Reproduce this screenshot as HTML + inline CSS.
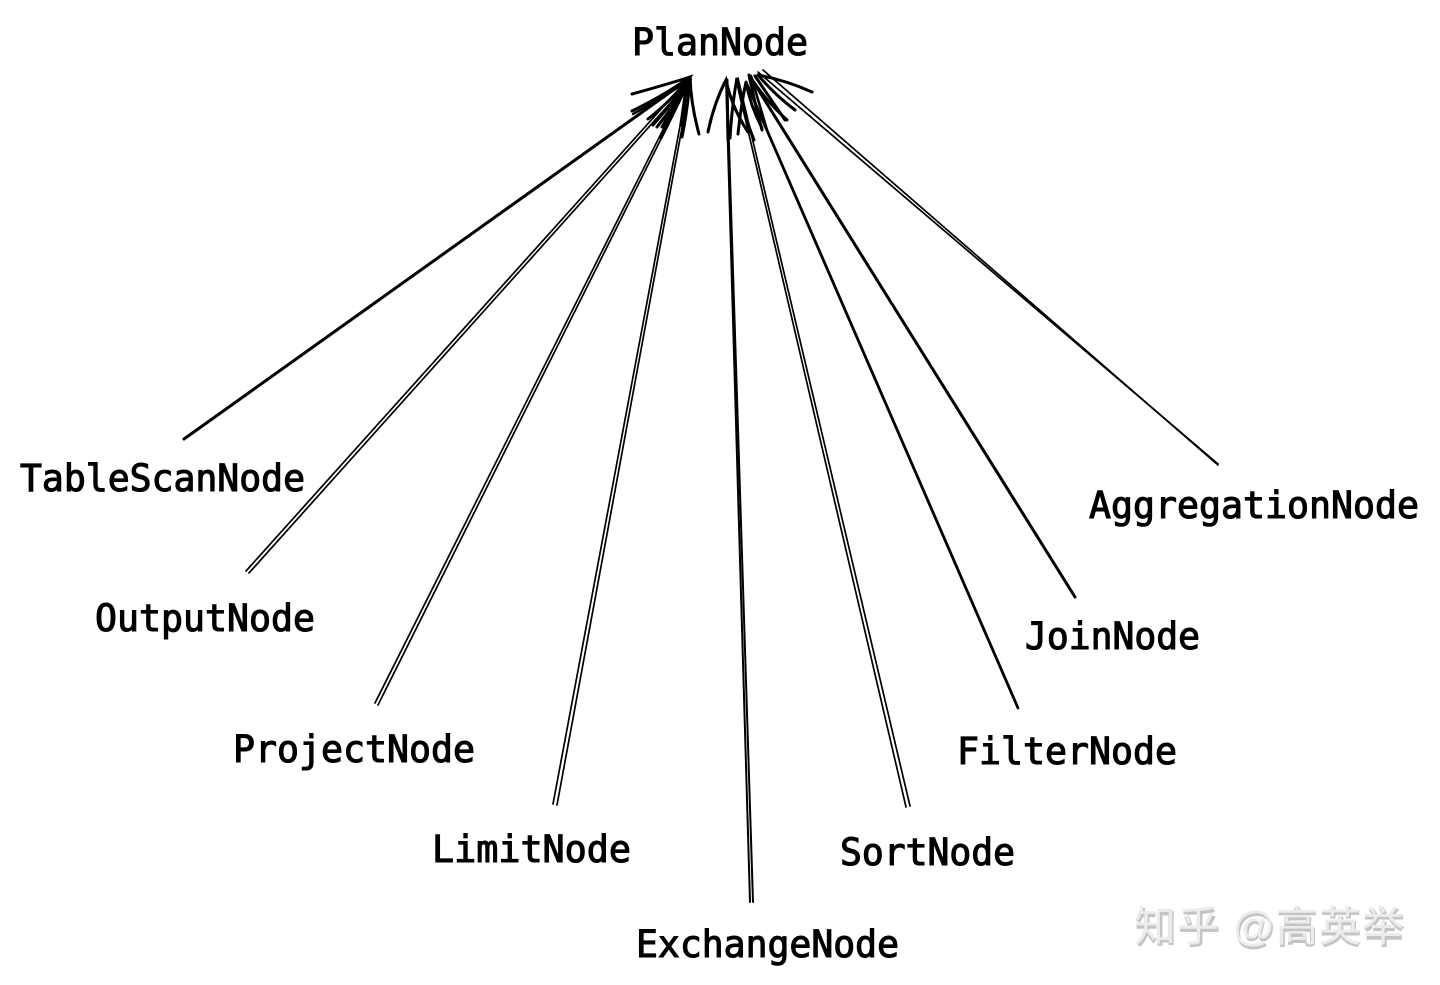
<!DOCTYPE html>
<html><head><meta charset="utf-8"><style>
html,body{margin:0;padding:0;background:#fff;width:1440px;height:985px;overflow:hidden}
svg{display:block}
text.n{font-family:"DejaVu Sans Mono","Liberation Mono",monospace;font-size:37px;fill:#000;stroke:#000;stroke-width:1.1px}
text.w{font-family:"Liberation Sans","Noto Sans CJK SC",sans-serif;font-size:42px;font-weight:700}
</style></head><body>
<svg width="1440" height="985" viewBox="0 0 1440 985" xmlns="http://www.w3.org/2000/svg">
<g fill="none" stroke="#000" stroke-linecap="round">
<!-- TableScan -->
<path d="M184 439 L690 78" stroke-width="3"/>
<path d="M632 94 Q665 85 690 77 Q675 100 653 125" stroke-width="3"/>
<!-- Output (double) -->
<path d="M246 571 L689 78" stroke-width="1.7"/>
<path d="M249 573 L691 80" stroke-width="1.7"/>
<path d="M632 111 Q665 95 690 77 Q675 105 657 127" stroke-width="3"/>
<path d="M633 114 Q665 97 690 79" stroke-width="2.4"/>
<!-- Project -->
<path d="M375 703 L689 78" stroke-width="1.7"/>
<path d="M378 705 L691 79" stroke-width="1.7"/>
<path d="M648 119 Q672 100 690 77 Q678 105 661 138" stroke-width="3"/>
<!-- Limit -->
<path d="M553 804 L689 78" stroke-width="1.7"/>
<path d="M557 805 L691 79" stroke-width="1.7"/>
<path d="M662 127 Q678 100 690 77 Q688 108 682 137 M690 77 Q691 105 699 134" stroke-width="3"/>
<path d="M686 90 L681 125" stroke-width="3.4"/>
<!-- Exchange (double) -->
<path d="M750 902 L726 80" stroke-width="2"/>
<path d="M753 902 L727 82" stroke-width="2"/>
<path d="M708 132 Q714 103 726 80 Q732 108 748 132" stroke-width="3"/>
<path d="M727 80 L728 140" stroke-width="3"/>
<!-- Sort -->
<path d="M906 807 L736 79" stroke-width="1.7"/>
<path d="M910 806 L738 78" stroke-width="1.7"/>
<path d="M730 138 Q732 105 737 78 Q742 110 754 140" stroke-width="3"/>
<!-- Filter -->
<path d="M1018 708 L746 82" stroke-width="2.8"/>
<path d="M738 134 Q741 105 746 82 Q750 105 762 128" stroke-width="3"/>
<!-- Join -->
<path d="M1075 597 L749 75" stroke-width="3"/>
<path d="M762 130 Q754 100 749 75 Q765 100 787 120" stroke-width="3"/>
<path d="M751 76 L767 130" stroke-width="2.6"/>
<!-- Aggregation (double) -->
<path d="M1218 464 L758 72" stroke-width="1.7"/>
<path d="M1218 465 L763 70" stroke-width="1.7"/>
<path d="M758 75 Q785 80 812 92 M758 75 Q775 95 795 110" stroke-width="3"/>
<path d="M755 76 L785 120" stroke-width="3"/>
</g>
<g>
<text class="n" x="632" y="55" textLength="176" lengthAdjust="spacingAndGlyphs">PlanNode</text>
<text class="n" x="20" y="491" textLength="285" lengthAdjust="spacingAndGlyphs">TableScanNode</text>
<text class="n" x="95" y="631" textLength="220" lengthAdjust="spacingAndGlyphs">OutputNode</text>
<text class="n" x="233" y="762" textLength="242" lengthAdjust="spacingAndGlyphs">ProjectNode</text>
<text class="n" x="432" y="862" textLength="199" lengthAdjust="spacingAndGlyphs">LimitNode</text>
<text class="n" x="636" y="957" textLength="263" lengthAdjust="spacingAndGlyphs">ExchangeNode</text>
<text class="n" x="840" y="865" textLength="175" lengthAdjust="spacingAndGlyphs">SortNode</text>
<text class="n" x="957" y="764" textLength="220" lengthAdjust="spacingAndGlyphs">FilterNode</text>
<text class="n" x="1025" y="649" textLength="175" lengthAdjust="spacingAndGlyphs">JoinNode</text>
<text class="n" x="1089" y="518" textLength="330" lengthAdjust="spacingAndGlyphs">AggregationNode</text>
</g>
<text class="w" x="1135" y="943" fill="#c4c4c4" textLength="270">知乎 @高英举</text>
<text class="w" x="1134" y="941" fill="#ececec" textLength="270" style="font-weight:400">知乎 @高英举</text>
</svg>
</body></html>
